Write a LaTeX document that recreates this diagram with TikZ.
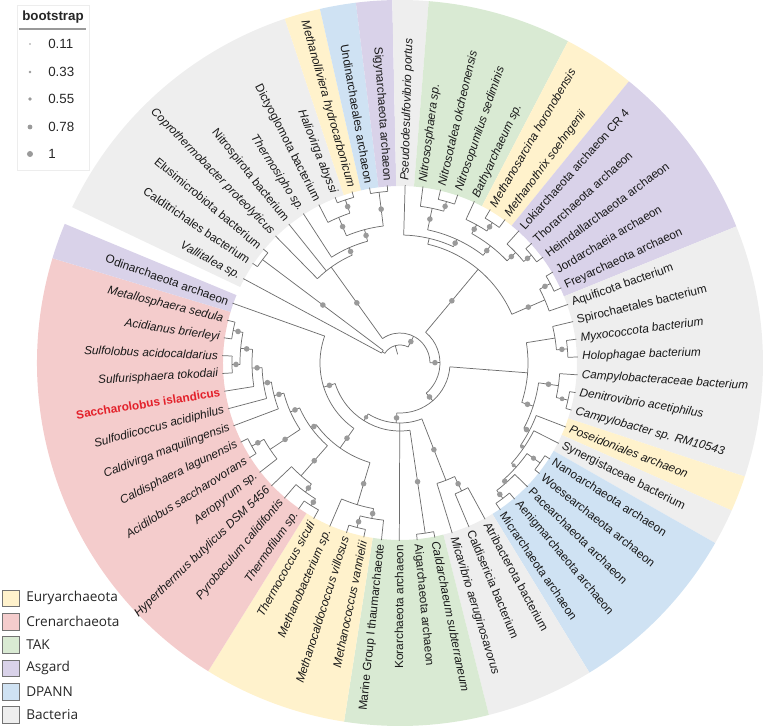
\documentclass[tikz,border=0pt]{standalone}
\usepackage{fontspec}
\setmainfont{Liberation Sans}
\newfontfamily\legfont{Open Sans}
\definecolor{cEury}{HTML}{FFF2CC}
\definecolor{cCren}{HTML}{F4CCCC}
\definecolor{cTAK}{HTML}{D9EAD3}
\definecolor{cAsg}{HTML}{D9D2E9}
\definecolor{cDPA}{HTML}{CFE2F3}
\definecolor{cBac}{HTML}{EEEEEE}
\definecolor{treec}{HTML}{6E6E6E}
\definecolor{dotc}{HTML}{9A9A9A}
\definecolor{hilite}{HTML}{E3202A}
\newcommand\labfont{\fontsize{8.85}{10}\selectfont}
\tikzset{
  branch/.style={draw=treec, line width=0.55pt},
  lab/.style={inner sep=0pt, font=\labfont\itshape, text=black!90},
  uprt/.style={font=\labfont},
  hl/.style={font=\labfont\bfseries, text=hilite},
}
% leaf: name, index k
\newcommand\Lf[2]{%
  \pgfmathsetmacro\nA{151.7-5.76*(#2-1)}%
  \expandafter\xdef\csname ta@#1\endcsname{\nA}%
  \expandafter\xdef\csname tr@#1\endcsname{178}%
  \expandafter\xdef\csname tb@#1\endcsname{0}%
}
% edge from parent radius #1 to child #2, with bootstrap dot
\newcommand\Edge[2]{%
  \edef\eA{\csname ta@#2\endcsname}%
  \edef\eR{\csname tr@#2\endcsname}%
  \edef\eB{\csname tb@#2\endcsname}%
  \draw[branch] (\eA:#1) -- (\eA:\eR);
  \ifdim\eB pt>0pt
    \pgfmathsetmacro\eM{(#1+\eR)/2}%
    \fill[dotc] (\eA:\eM) circle[radius=\eB];
  \fi
}
% binary node: name, radius, dot radius, child1, child2
\newcommand\Nb[5]{%
  \edef\aS{\csname ta@#4\endcsname}\edef\aE{\csname ta@#5\endcsname}%
  \pgfmathsetmacro\nA{(\aS+\aE)/2}%
  \expandafter\xdef\csname ta@#1\endcsname{\nA}%
  \expandafter\xdef\csname tr@#1\endcsname{#2}%
  \expandafter\xdef\csname tb@#1\endcsname{#3}%
  \coordinate (#1) at (\nA:#2);
  \draw[branch] (\aS:#2) arc[start angle=\aS, end angle=\aE, radius=#2];
  \Edge{#2}{#4}\Edge{#2}{#5}%
}
% ternary node
\newcommand\Nc[6]{%
  \edef\aS{\csname ta@#4\endcsname}\edef\aM{\csname ta@#5\endcsname}\edef\aE{\csname ta@#6\endcsname}%
  \pgfmathsetmacro\nA{(\aS+\aM+\aE)/3}%
  \expandafter\xdef\csname ta@#1\endcsname{\nA}%
  \expandafter\xdef\csname tr@#1\endcsname{#2}%
  \expandafter\xdef\csname tb@#1\endcsname{#3}%
  \coordinate (#1) at (\nA:#2);
  \draw[branch] (\aS:#2) arc[start angle=\aS, end angle=\aE, radius=#2];
  \Edge{#2}{#4}\Edge{#2}{#5}\Edge{#2}{#6}%
}
% label
\newcommand\Lb[3][]{%
  \edef\lA{\csname ta@#2\endcsname}%
  \def\lS{1}%
  \ifdim\lA pt>-90pt \ifdim\lA pt<90pt \def\lS{0}\fi\fi
  \ifnum\lS=0
    \node[lab,anchor=west,rotate=\lA,#1] (t#2) at (\lA:182) {#3};
  \else
    \pgfmathsetmacro\lB{\lA+180}%
    \node[lab,anchor=east,rotate=\lB,#1] (t#2) at (\lA:182) {#3};
  \fi
}
% colour sector over leaves k1..k2
\newcommand\Sec[3]{%
  \pgfmathsetmacro\sA{151.7-5.76*(#2-1)+2.88}%
  \pgfmathsetmacro\sB{151.7-5.76*(#3-1)-2.88}%
  \fill[#1] (\sA:177) arc[start angle=\sA, end angle=\sB, radius=177] -- (\sB:363) arc[start angle=\sB, end angle=\sA, radius=363] -- cycle;
}
\begin{document}
\begin{tikzpicture}[x=0.75pt,y=0.75pt]
\useasboundingbox (-400,-365) rectangle (364,363);
% ---------- coloured ring ----------
\Sec{cBac}{1}{8}
\Sec{cEury}{9}{9}
\Sec{cDPA}{10}{10}
\Sec{cAsg}{11}{11}
\Sec{cBac}{12}{12}
\Sec{cTAK}{13}{16}
\Sec{cEury}{17}{18}
\Sec{cAsg}{19}{23}
\Sec{cBac}{24}{30}
\Sec{cEury}{31}{31}
\Sec{cBac}{32}{32}
\Sec{cDPA}{33}{37}
\Sec{cBac}{38}{40}
\Sec{cTAK}{41}{44}
\Sec{cEury}{45}{48}
\Sec{cCren}{49}{61}
\Sec{cAsg}{62}{62}
% ---------- leaves ----------
\foreach \i in {1,...,51}{\pgfmathtruncatemacro\kk{\i+11}\Lf{L\i}{\kk}}
\foreach \i in {52,...,62}{\pgfmathtruncatemacro\kk{\i-51}\Lf{L\i}{\kk}}
% ---------- tree ----------
% upper right
\Nb{n34}{168}{2.8}{L3}{L4}
\Nb{n234}{158}{2.8}{L2}{n34}
\Nb{n67}{168}{2.8}{L6}{L7}
\Nb{n567}{158}{2.8}{L5}{n67}
\Nb{n910}{170}{2.8}{L9}{L10}
\Nb{n810}{160}{2.8}{L8}{n910}
\Nb{n510}{148}{2.8}{n567}{n810}
\Nb{n210}{136}{2.8}{n234}{n510}
\Nb{n110}{128}{0}{L1}{n210}
\Nb{n1112}{170}{2.8}{L11}{L12}
\Nb{n1113}{158}{2.8}{n1112}{L13}
\Nb{nTR}{122}{2.8}{n110}{n1113}
% right
\Nb{n1516}{168}{2.8}{L15}{L16}
\Nb{n1416}{157}{0}{L14}{n1516}
\Nb{n1819}{172}{2.4}{L18}{L19}
\Nb{n1719}{160}{2.8}{L17}{n1819}
\Nb{n2526}{170}{2.8}{L25}{L26}
\Nb{n2426}{160}{2.8}{L24}{n2526}
\Nb{n2223}{172}{2.6}{L22}{L23}
\Nb{n2226}{156}{2}{n2223}{n2426}
\Nb{n2126}{150}{2}{L21}{n2226}
\Nb{n2026}{146}{2.8}{L20}{n2126}
\Nb{n1726}{140}{2.8}{n1719}{n2026}
\Nb{n1426}{128}{1}{n1416}{n1726}
% lower right
\Nb{n2728}{142}{2.8}{L27}{L28}
\Nb{n2729}{126}{2.8}{n2728}{L29}
% bottom and left
\Nb{n3031}{172}{2.8}{L30}{L31}
\Nb{n3435}{170}{2.8}{L34}{L35}
\Nb{n3335}{158}{2.8}{L33}{n3435}
\Nb{n3336}{148}{2.8}{n3335}{L36}
\Nb{n3738}{168}{2.8}{L37}{L38}
\Nb{n3739}{160}{2.8}{n3738}{L39}
\Nb{n3740}{150}{2.8}{n3739}{L40}
\Nb{n4243}{170}{2.8}{L42}{L43}
\Nb{n4143}{156}{2.8}{L41}{n4243}
\Nb{n4950}{170}{2.8}{L49}{L50}
\Nb{n4748}{168}{2.8}{L47}{L48}
\Nb{n4750}{160}{2.8}{n4748}{n4950}
\Nb{n4650}{148}{2.8}{L46}{n4750}
\Nb{n4550}{138}{2.8}{L45}{n4650}
\Nb{n4450}{130}{2.8}{L44}{n4550}
\Nb{n4150}{120}{2.8}{n4143}{n4450}
\Nb{n3750}{110}{2.8}{n3740}{n4150}
\Nb{nP1}{104}{2.8}{n3336}{n3750}
\Nb{nC6}{80}{2.8}{nP1}{L51}
\Nb{nC5}{68}{2.2}{n3031}{nC6}
\Nc{nC4}{60}{2.8}{n2729}{L32}{nC5}
\Nb{nC3}{50}{2.8}{n1426}{nC4}
\Nb{nC2}{40}{2.8}{nTR}{nC3}
% upper left
\Nb{n5960}{172}{2.8}{L59}{L60}
\Nb{n5860}{158}{2.8}{L58}{n5960}
\Nb{n6162}{172}{2.8}{L61}{L62}
\Nb{nZ}{138}{2.8}{n5860}{n6162}
\Nb{n57Z}{126}{2.8}{L57}{nZ}
\Nc{nY}{118}{2.8}{L55}{L56}{n57Z}
\Nb{nC1}{30}{2.8}{nY}{nC2}
\Nb{n5354}{172}{2.8}{L53}{L54}
\Nb{n5254}{21}{0}{L52}{n5354}
\Nb{nC0}{18}{0}{n5254}{nC1}
\edef\rA{\csname ta@nC0\endcsname}
\coordinate (root) at (\rA:9);
\draw[branch] (root) -- (nC0);
% ---------- labels ----------
\Lb{L1}{Pseudodesulfovibrio portus}
\Lb{L2}{Nitrososphaera sp.}
\Lb{L3}{Nitrosotalea okcheonensis}
\Lb{L4}{Nitrosopumilus sediminis}
\Lb{L5}{Bathyarchaeum sp.}
\Lb{L6}{Methanosarcina horonobensis}
\Lb{L7}{Methanothrix soehngenii}
\Lb[uprt]{L8}{Lokiarchaeota archaeon CR 4}
\Lb[uprt]{L9}{Thorarchaeota archaeon}
\Lb[uprt]{L10}{Heimdallarchaeota archaeon}
\Lb[uprt]{L11}{Jordarchaeia archaeon}
\Lb[uprt]{L12}{Freyarchaeota archaeon}
\Lb[uprt]{L13}{Aquificota bacterium}
\Lb[uprt]{L14}{Spirochaetales bacterium}
\Lb{L15}{Myxococcota bacterium}
\Lb{L16}{Holophagae bacterium}
\Lb{L17}{Campylobacteraceae bacterium}
\Lb{L18}{Denitrovibrio acetiphilus}
\Lb{L19}{Campylobacter sp. RM10543}
\Lb{L20}{Poseidoniales archaeon}
\Lb[uprt]{L21}{Synergistaceae bacterium}
\Lb[uprt]{L22}{Nanoarchaeota archaeon}
\Lb[uprt]{L23}{Woesearchaeota archaeon}
\Lb[uprt]{L24}{Pacearchaeota archaeon}
\Lb[uprt]{L25}{Aenigmarchaeota archaeon}
\Lb[uprt]{L26}{Micrarchaeota archaeon}
\Lb[uprt]{L27}{Atribacterota bacterium}
\Lb[uprt]{L28}{Caldisericia bacterium}
\Lb{L29}{Micavibrio aeruginosavorus}
\Lb{L30}{Caldarchaeum subterraneum}
\Lb[uprt]{L31}{Aigarchaeota archaeon}
\Lb[uprt]{L32}{Korarchaeota archaeon}
\Lb[uprt]{L33}{Marine Group I thaumarchaeote}
\Lb{L34}{Methanococcus vannielii}
\Lb{L35}{Methanocaldococcus villosus}
\Lb{L36}{Methanobacterium sp.}
\Lb{L37}{Thermococcus siculi}
\Lb{L38}{Thermofilum sp.}
\Lb{L39}{Pyrobaculum calidifontis}
\Lb{L40}{Hyperthermus butylicus DSM 5456}
\Lb{L41}{Aeropyrum sp.}
\Lb{L42}{Acidilobus saccharovorans}
\Lb{L43}{Caldisphaera lagunensis}
\Lb{L44}{Caldivirga maquilingensis}
\Lb{L45}{Sulfodiicoccus acidiphilus}
\Lb[hl]{L46}{Saccharolobus islandicus}
\Lb{L47}{Sulfurisphaera tokodaii}
\Lb{L48}{Sulfolobus acidocaldarius}
\Lb{L49}{Acidianus brierleyi}
\Lb{L50}{Metallosphaera sedula}
\Lb[uprt]{L51}{Odinarchaeota archaeon}
\Lb{L52}{Vallitalea sp.}
\Lb[uprt]{L53}{Calditrichales bacterium}
\Lb[uprt]{L54}{Elusimicrobiota bacterium}
\Lb{L55}{Coprothermobacter proteolyticus}
\Lb[uprt]{L56}{Nitrospirota bacterium}
\Lb{L57}{Thermosipho sp.}
\Lb[uprt]{L58}{Dictyoglomota bacterium}
\Lb{L59}{Haliovirga abyssi}
\Lb{L60}{Methanolliviera hydrocarbonicum}
\Lb[uprt]{L61}{Undinarchaeales archaeon}
\Lb[uprt]{L62}{Sigynarchaeota archaeon}
% ---------- bootstrap legend ----------
\draw[draw=black!7, fill=white] (-383,358) rectangle (-311,193);
\node[font=\bfseries\fontsize{10}{12}\selectfont, text=black!85] (bsT) at (-347,346) {bootstrap};
\coordinate (bsL) at (-381,334);
\coordinate (bsR) at (-314,334);
\draw[black!40, line width=1.2pt] (bsL) -- (bsR);
\foreach \v/\y/\rr [count=\j] in {0.11/319/0.8, 0.33/291/1.3, 0.55/264/1.8, 0.78/236/2.4, 1/209/3.0}{
  \fill[dotc] (-370,\y) circle[radius=\rr];
  \node[anchor=west, inner sep=0pt, font=\fontsize{10}{12}\selectfont, text=black!85] (bsv\j) at (-352,\y) {\v};
}
% ---------- group legend ----------
\foreach \c/\t [count=\j] in {cEury/Euryarchaeota, cCren/Crenarchaeota, cTAK/TAK, cAsg/Asgard, cDPA/DPANN, cBac/Bacteria}{
  \pgfmathsetmacro\yy{-235.4-23.3*(\j-1)}
  \filldraw[fill=\c, draw=black!55, line width=0.5pt] (-398,\yy-8.3) rectangle (-381,\yy+8.3);
  \node[anchor=west, inner sep=0pt, font=\legfont\fontsize{10.2}{12}\selectfont, text=black!85] (lg\j) at (-374,\yy) {\t};
}
\end{tikzpicture}
\end{document}
